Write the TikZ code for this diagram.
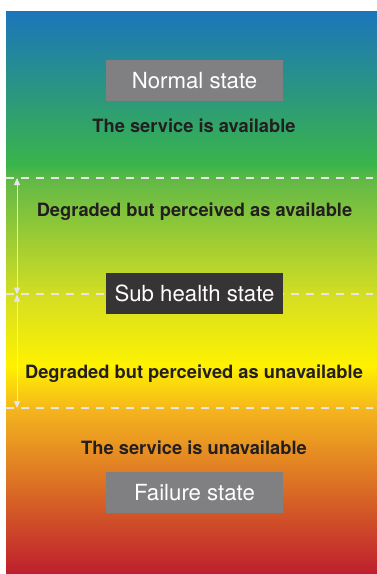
\documentclass[tikz,border=0pt]{standalone}
\usepackage{fontspec}
\setmainfont{TeX Gyre Heros}
\usetikzlibrary{arrows.meta}
\definecolor{cblue}{HTML}{1B75BB}
\definecolor{cgreen}{HTML}{39B54A}
\definecolor{cgreenb}{HTML}{62B946}
\definecolor{cyg}{HTML}{D4DE22}
\definecolor{cyellow}{HTML}{FFF200}
\definecolor{corange}{HTML}{F4B41E}
\definecolor{cred}{HTML}{BE1E2D}
\definecolor{boxgray}{HTML}{808082}
\definecolor{boxdark}{HTML}{373435}
\definecolor{txt}{HTML}{231F20}
\definecolor{dashc}{HTML}{E6E6E6}
\tikzset{
  statebox/.style={minimum width=177pt, minimum height=41pt, inner sep=0pt, text=white,
     font=\fontsize{22.2}{26}\selectfont},
  desc/.style={inner sep=0pt, text=txt, font=\fontsize{18.3}{22}\selectfont\bfseries},
  sepline/.style={draw=dashc, line width=1.8pt, dash pattern=on 8pt off 7pt},
  span/.style={draw=dashc, line width=0.8pt, {Triangle[length=7pt,width=6pt]}-{Triangle[length=7pt,width=6pt]}}
}
\begin{document}
\begin{tikzpicture}[x=1pt,y=-1pt]
\useasboundingbox (0,0) rectangle (377,574);
% background gradient
\shade[top color=cblue, bottom color=cgreen] (6,11) rectangle (377,166);
\shade[top color=cgreen, bottom color=cgreenb] (6,165) rectangle (377,181);
\shade[top color=cgreenb, bottom color=cyg] (6,180) rectangle (377,296);
\shade[top color=cyg, bottom color=cyellow] (6,295) rectangle (377,366);
\shade[top color=cyellow, bottom color=corange] (6,365) rectangle (377,411);
\shade[top color=corange, bottom color=cred] (6,410) rectangle (377,574);
% separator lines
\coordinate (s1a) at (6,178); \coordinate (s1b) at (373,178);
\coordinate (s2a) at (6,294); \coordinate (s2b) at (373,294);
\coordinate (s3a) at (6,408); \coordinate (s3b) at (373,408);
\draw[sepline] (s1a) -- (s1b);
\draw[sepline] (s2a) -- (s2b);
\draw[sepline] (s3a) -- (s3b);
% span arrows
\coordinate (a1) at (17,178);
\coordinate (a2) at (17,294.5);
\coordinate (a3) at (17,408);
\draw[span] (a1) -- (a2);
\draw[span] (a2) -- (a3);
% nodes
\node[statebox, fill=boxgray] (normal) at (194.5,80.5) {Normal state};
\node[desc] (avail) at (194,126) {The service is available};
\node[desc] (degav) at (194.5,212) {Degraded but perceived as available};
\node[statebox, fill=boxdark] (sub) at (194.5,293.5) {Sub health state};
\node[desc] (degun) at (194,374) {Degraded but perceived as unavailable};
\node[desc] (unavail) at (194,448) {The service is unavailable};
\node[statebox, fill=boxgray] (fail) at (194.5,492.5) {Failure state};
\end{tikzpicture}
\end{document}
